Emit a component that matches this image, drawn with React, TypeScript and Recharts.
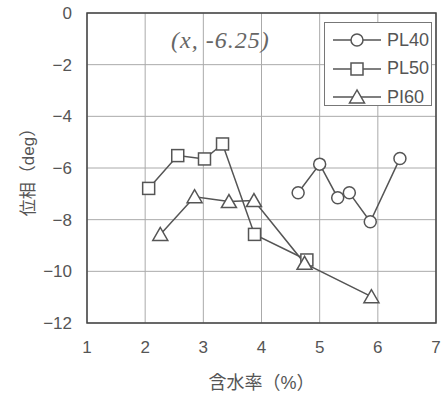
import React from 'react';
import {
  LineChart,
  Line,
  XAxis,
  YAxis,
  CartesianGrid,
  ReferenceArea,
  Legend,
} from 'recharts';

// moisture content (%) vs phase (deg)
const pl40X = [4.63, 5.0, 5.31, 5.51, 5.87, 6.38];
const pl40Y = [-6.96, -5.85, -7.15, -6.96, -8.08, -5.63];
const pl50X = [2.06, 2.56, 3.02, 3.33, 3.88, 4.78];
const pl50Y = [-6.79, -5.52, -5.65, -5.07, -8.57, -9.56];
const pl60X = [2.26, 2.85, 3.44, 3.87, 4.74, 5.89];
const pl60Y = [-8.57, -7.11, -7.3, -7.26, -9.69, -10.98];

const xTicks = [1, 2, 3, 4, 5, 6, 7];
const yTicks = [0, -2, -4, -6, -8, -10, -12];

const toPoints = (xs: number[], ys: number[]) => xs.map((x, i) => ({ x, y: ys[i] }));

const pl40 = toPoints(pl40X, pl40Y);
const pl50 = toPoints(pl50X, pl50Y);
const pl60 = toPoints(pl60X, pl60Y);

const INK = '#555';
const FONT = '"Liberation Sans", "Noto Sans CJK JP", Arial, sans-serif';

const CircleDot = (props: any) => {
  const { cx, cy } = props;
  return <circle cx={cx} cy={cy} r={6} fill="#fff" stroke={INK} strokeWidth={1.5} />;
};

const SquareDot = (props: any) => {
  const { cx, cy } = props;
  return <rect x={cx - 6} y={cy - 6} width={12} height={12} fill="#fff" stroke={INK} strokeWidth={1.5} />;
};

const TriangleDot = (props: any) => {
  const { cx, cy } = props;
  const pts = `${cx},${cy - 7} ${cx - 7.5},${cy + 6} ${cx + 7.5},${cy + 6}`;
  return <polygon points={pts} fill="#fff" stroke={INK} strokeWidth={1.5} />;
};

const legendItems = [
  { name: 'PL40', Icon: CircleDot },
  { name: 'PL50', Icon: SquareDot },
  { name: 'PI60', Icon: TriangleDot },
];

const LegendBox = () => (
  <div
    style={{
      border: `1px solid #777`,
      width: 108,
      height: 84,
      background: '#fff',
      boxSizing: 'border-box',
      paddingTop: 3,
    }}
  >
    {legendItems.map(({ name, Icon }) => (
      <div key={name} style={{ display: 'flex', alignItems: 'center', height: 28.5 }}>
        <svg width={56} height={20} style={{ marginLeft: 6 }}>
          <line x1={2} y1={10} x2={50} y2={10} stroke={INK} strokeWidth={1.5} />
          <Icon cx={26} cy={10} />
        </svg>
        <span style={{ fontFamily: FONT, fontSize: 18, color: INK }}>{name}</span>
      </div>
    ))}
  </div>
);

export default function App() {
  return (
    <div style={{ position: 'absolute', left: 0, top: 0, width: 442, height: 398, background: '#fff' }}>
      <LineChart width={442} height={398} margin={{ top: 13, right: 6, bottom: 0, left: 0 }}>
        <CartesianGrid stroke="#aaa" strokeWidth={1} />
        <XAxis
          type="number"
          dataKey="x"
          domain={[1, 7]}
          ticks={xTicks}
          axisLine={false}
          tickLine={false}
          tickSize={0}
          tickMargin={18}
          height={75}
          tick={{ fill: INK, fontSize: 17, fontFamily: FONT }}
          label={{
            value: '含水率（%）',
            position: 'insideBottom',
            offset: 9,
            fill: INK,
            fontSize: 18,
            fontFamily: FONT,
          }}
        />
        <YAxis
          type="number"
          dataKey="y"
          domain={[-12, 0]}
          ticks={yTicks}
          axisLine={false}
          tickLine={false}
          tickSize={0}
          tickMargin={15}
          width={87}
          tick={{ fill: INK, fontSize: 17, fontFamily: FONT }}
          tickFormatter={(v: number) => (v < 0 ? `\u2212${Math.abs(v)}` : `${v}`)}
          label={{
            value: '位相（deg）',
            angle: -90,
            position: 'insideLeft',
            offset: 28,
            fill: INK,
            fontSize: 17,
            fontFamily: FONT,
            style: { textAnchor: 'middle' },
          }}
        />
        <ReferenceArea
          x1={1}
          x2={7}
          y1={-12}
          y2={0}
          fill="none"
          stroke="#444"
          strokeWidth={1.5}
          ifOverflow="visible"
        />
        <Line
          data={pl40}
          dataKey="y"
          name="PL40"
          stroke={INK}
          strokeWidth={1.5}
          dot={<CircleDot />}
          isAnimationActive={false}
        />
        <Line
          data={pl50}
          dataKey="y"
          name="PL50"
          stroke={INK}
          strokeWidth={1.5}
          dot={<SquareDot />}
          isAnimationActive={false}
        />
        <Line
          data={pl60}
          dataKey="y"
          name="PI60"
          stroke={INK}
          strokeWidth={1.5}
          dot={<TriangleDot />}
          isAnimationActive={false}
        />
        <Legend
          layout="vertical"
          align="center"
          verticalAlign="middle"
          content={<LegendBox />}
          wrapperStyle={{ left: 324, top: 22, width: 110 }}
        />
      </LineChart>
      <div
        style={{
          position: 'absolute',
          left: 171,
          top: 27,
          fontFamily: '"Liberation Serif", "DejaVu Serif", serif',
          fontStyle: 'italic',
          fontSize: 24,
          letterSpacing: 1,
          color: '#666',
        }}
      >
        (x, -6.25)
      </div>
    </div>
  );
}
